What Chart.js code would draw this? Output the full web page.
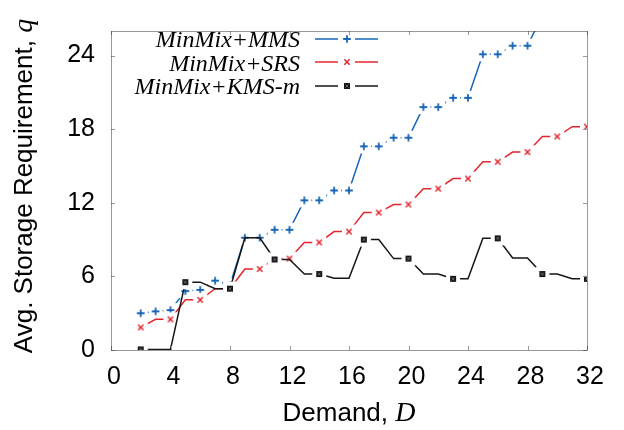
<!DOCTYPE html>
<html>
<head>
<meta charset="utf-8">
<script src="https://cdn.jsdelivr.net/npm/chart.js@4"></script>
<style>
  body { margin: 0; background: #fff; }
  canvas { display: block; }
</style>
</head>
<body>
<canvas id="storageChart" width="624" height="430"></canvas>
<script>
// demand values D on the x axis
const demand = [2, 3, 4, 5, 6, 7, 8, 9, 10, 11, 12, 13, 14, 15, 16, 17,
                18, 19, 20, 21, 22, 23, 24, 25, 26, 27, 28, 29, 30, 31, 32];

// avg. storage requirement q for each scheme
const mms = [3.0, 3.15, 3.25, 4.8, 4.9, 5.65, 5.3, 9.15, 9.15, 9.8, 9.8, 12.2, 12.2, 13.0, 13.0, 16.6,
             16.6, 17.3, 17.3, 19.8, 19.8, 20.55, 20.55, 24.1, 24.1, 24.8, 24.8, 27.3, 27.3, 28.0, 28.0];
const srs = [1.84, 2.5, 2.5, 4.09, 4.09, 5.0, 5.0, 6.6, 6.6, 7.45, 7.45, 8.77, 8.77, 9.65, 9.65, 11.2,
             11.2, 11.86, 11.86, 13.15, 13.15, 13.97, 13.97, 15.34, 15.34, 16.13, 16.13, 17.4, 17.4, 18.2, 18.2];
const kms = [0.05, 0.05, 0.05, 5.53, 5.53, 5.0, 5.0, 9.15, 9.15, 7.38, 7.38, 6.19, 6.19, 5.85, 5.85, 9.0,
             9.0, 7.45, 7.45, 6.19, 6.19, 5.8, 5.8, 9.1, 9.1, 7.5, 7.5, 6.19, 6.19, 5.8, 5.8];

const seriesNames = ['MinMix+MMS', 'MinMix+SRS', 'MinMix+KMS-m'];
const xTicks = [0, 4, 8, 12, 16, 20, 24, 28, 32];
const yTicks = [0, 6, 12, 18, 24];

const BLUE = '#1766b8';
const RED = '#e3262e';
const BLACK = '#151515';

// marker image with a white box behind it, so lines break around the point
function makeMarker(kind, color) {
    const c = document.createElement('canvas');
    c.width = 16; c.height = 16;
    const g = c.getContext('2d');
    g.fillStyle = '#fff';
    g.fillRect(1, 1, 14, 14);
    g.translate(8, 8);
    g.strokeStyle = color;
    g.beginPath();
    if (kind === 'plus') {
        g.lineWidth = 1.8;
        g.moveTo(-3.8, 0); g.lineTo(3.8, 0);
        g.moveTo(0, -3.8); g.lineTo(0, 3.8);
    } else if (kind === 'cross') {
        g.lineWidth = 1.5;
        g.moveTo(-2.7, -2.7); g.lineTo(2.7, 2.7);
        g.moveTo(-2.7, 2.7); g.lineTo(2.7, -2.7);
    } else {
        g.lineWidth = 1;
        g.fillStyle = color;
        g.fillRect(-2.5, -2.5, 5, 5);
        g.strokeRect(-2.5, -2.5, 5, 5);
        g.strokeStyle = '#666';
        g.moveTo(-1.5, -1.5); g.lineTo(1.5, 1.5);
        g.moveTo(-1.5, 1.5); g.lineTo(1.5, -1.5);
    }
    g.stroke();
    return c;
}

const markers = [makeMarker('plus', BLUE), makeMarker('cross', RED), makeMarker('box', BLACK)];
const colors = [BLUE, RED, BLACK];
const every = [1, 2, 3];

function toPoints(values) {
    return demand.map((d, i) => ({ x: d, y: values[i] }));
}

// dotted frame and small inward tics, like the original plot
const frame = {
    id: 'frame',
    afterDraw(chart) {
        const { ctx, chartArea: a, scales } = chart;
        ctx.save();
        ctx.strokeStyle = '#999';
        ctx.lineWidth = 1;
        ctx.beginPath();
        xTicks.forEach(v => {
            const px = Math.round(scales.x.getPixelForValue(v)) + 0.5;
            ctx.moveTo(px, a.bottom); ctx.lineTo(px, a.bottom - 4);
            ctx.moveTo(px, a.top); ctx.lineTo(px, a.top + 4);
        });
        yTicks.forEach(v => {
            const py = Math.round(scales.y.getPixelForValue(v)) + 0.5;
            ctx.moveTo(a.left, py); ctx.lineTo(a.left + 4, py);
            ctx.moveTo(a.right, py); ctx.lineTo(a.right - 4, py);
        });
        ctx.stroke();
        ctx.strokeStyle = '#333';
        ctx.setLineDash([1, 1]);
        ctx.strokeRect(Math.round(a.left) + 0.5, Math.round(a.top) + 0.5,
                       Math.round(a.right - a.left), Math.round(a.bottom - a.top));
        ctx.restore();
    }
};

// axis titles with the italic serif symbol at the end
function mixedText(ctx, parts, cx, y) {
    let w = 0;
    parts.forEach(p => { ctx.font = p[1]; w += ctx.measureText(p[0]).width; });
    let x = cx - w / 2;
    parts.forEach(p => {
        ctx.font = p[1];
        ctx.fillText(p[0], x, y);
        x += ctx.measureText(p[0]).width;
    });
}

const SANS = '26px "Liberation Sans", Arial, sans-serif';
const SERIF_IT = 'italic 28px "Liberation Serif", "Times New Roman", serif';
const KEY_FONT = 'italic 24px "Liberation Serif", "Times New Roman", serif';

const axisTitles = {
    id: 'axisTitles',
    afterDraw(chart) {
        const ctx = chart.ctx;
        ctx.save();
        ctx.fillStyle = '#000';
        ctx.textBaseline = 'alphabetic';
        ctx.textAlign = 'left';
        mixedText(ctx, [['Demand, ', SANS], ['D', SERIF_IT]], 349, 421);
        ctx.translate(32, 186);
        ctx.rotate(-Math.PI / 2);
        mixedText(ctx, [['Avg. Storage Requirement, ', SANS], ['q', SERIF_IT]], 0, 0);
        ctx.restore();
    }
};

// key in the top left corner: right aligned names, sample line with marker
const key = {
    id: 'key',
    afterDatasetsDraw(chart) {
        const ctx = chart.ctx;
        ctx.save();
        ctx.font = KEY_FONT;
        ctx.textAlign = 'right';
        ctx.textBaseline = 'alphabetic';
        ctx.fillStyle = '#000';
        seriesNames.forEach((name, i) => {
            const base = 47 + i * 23.5;
            ctx.fillText(name, 300, base);
            const ly = Math.round(base - 8.5);
            ctx.strokeStyle = colors[i];
            ctx.lineWidth = 2;
            ctx.globalAlpha = 0.75;
            ctx.beginPath();
            ctx.moveTo(315, ly); ctx.lineTo(338, ly);
            ctx.moveTo(355, ly); ctx.lineTo(378, ly);
            ctx.stroke();
            ctx.globalAlpha = 1;
            ctx.drawImage(markers[i], 347 - 8, ly - 8);
        });
        ctx.restore();
    }
};

const ctx = document.getElementById('storageChart').getContext('2d');
const values = [mms, srs, kms];
const tickFont = { family: '"Liberation Sans", Arial, sans-serif', size: 25 };

const storageChart = new Chart(ctx, {
    type: 'line',
    data: {
        datasets: values.map((v, i) => ({
            label: seriesNames[i],
            data: toPoints(v),
            borderColor: colors[i],
            borderWidth: 1.5,
            tension: 0,
            fill: false,
            order: 2 - i,
            pointStyle: markers[i],
            pointRadius: c => (c.dataIndex % every[i] === 0 ? 4 : 0),
            pointHoverRadius: 0
        }))
    },
    options: {
        responsive: false,
        animation: false,
        events: [],
        layout: { padding: { top: 21, right: 37, left: 0, bottom: 0 } },
        plugins: {
            legend: { display: false },
            tooltip: { enabled: false }
        },
        scales: {
            x: {
                type: 'linear',
                min: 0,
                max: 32,
                grid: { display: false, drawTicks: false },
                border: { display: false },
                afterFit: s => { s.height = 80; },
                ticks: {
                    stepSize: 4,
                    padding: 12,
                    labelOffset: 3,
                    color: '#000',
                    font: tickFont
                }
            },
            y: {
                type: 'linear',
                min: 0,
                max: 26,
                grid: { display: false, drawTicks: false },
                border: { display: false },
                afterFit: s => { s.width = 111; },
                ticks: {
                    stepSize: 6,
                    includeBounds: false,
                    padding: 16,
                    labelOffset: 0,
                    color: '#000',
                    font: tickFont
                }
            }
        }
    },
    plugins: [frame, axisTitles, key]
});
</script>
</body>
</html>
